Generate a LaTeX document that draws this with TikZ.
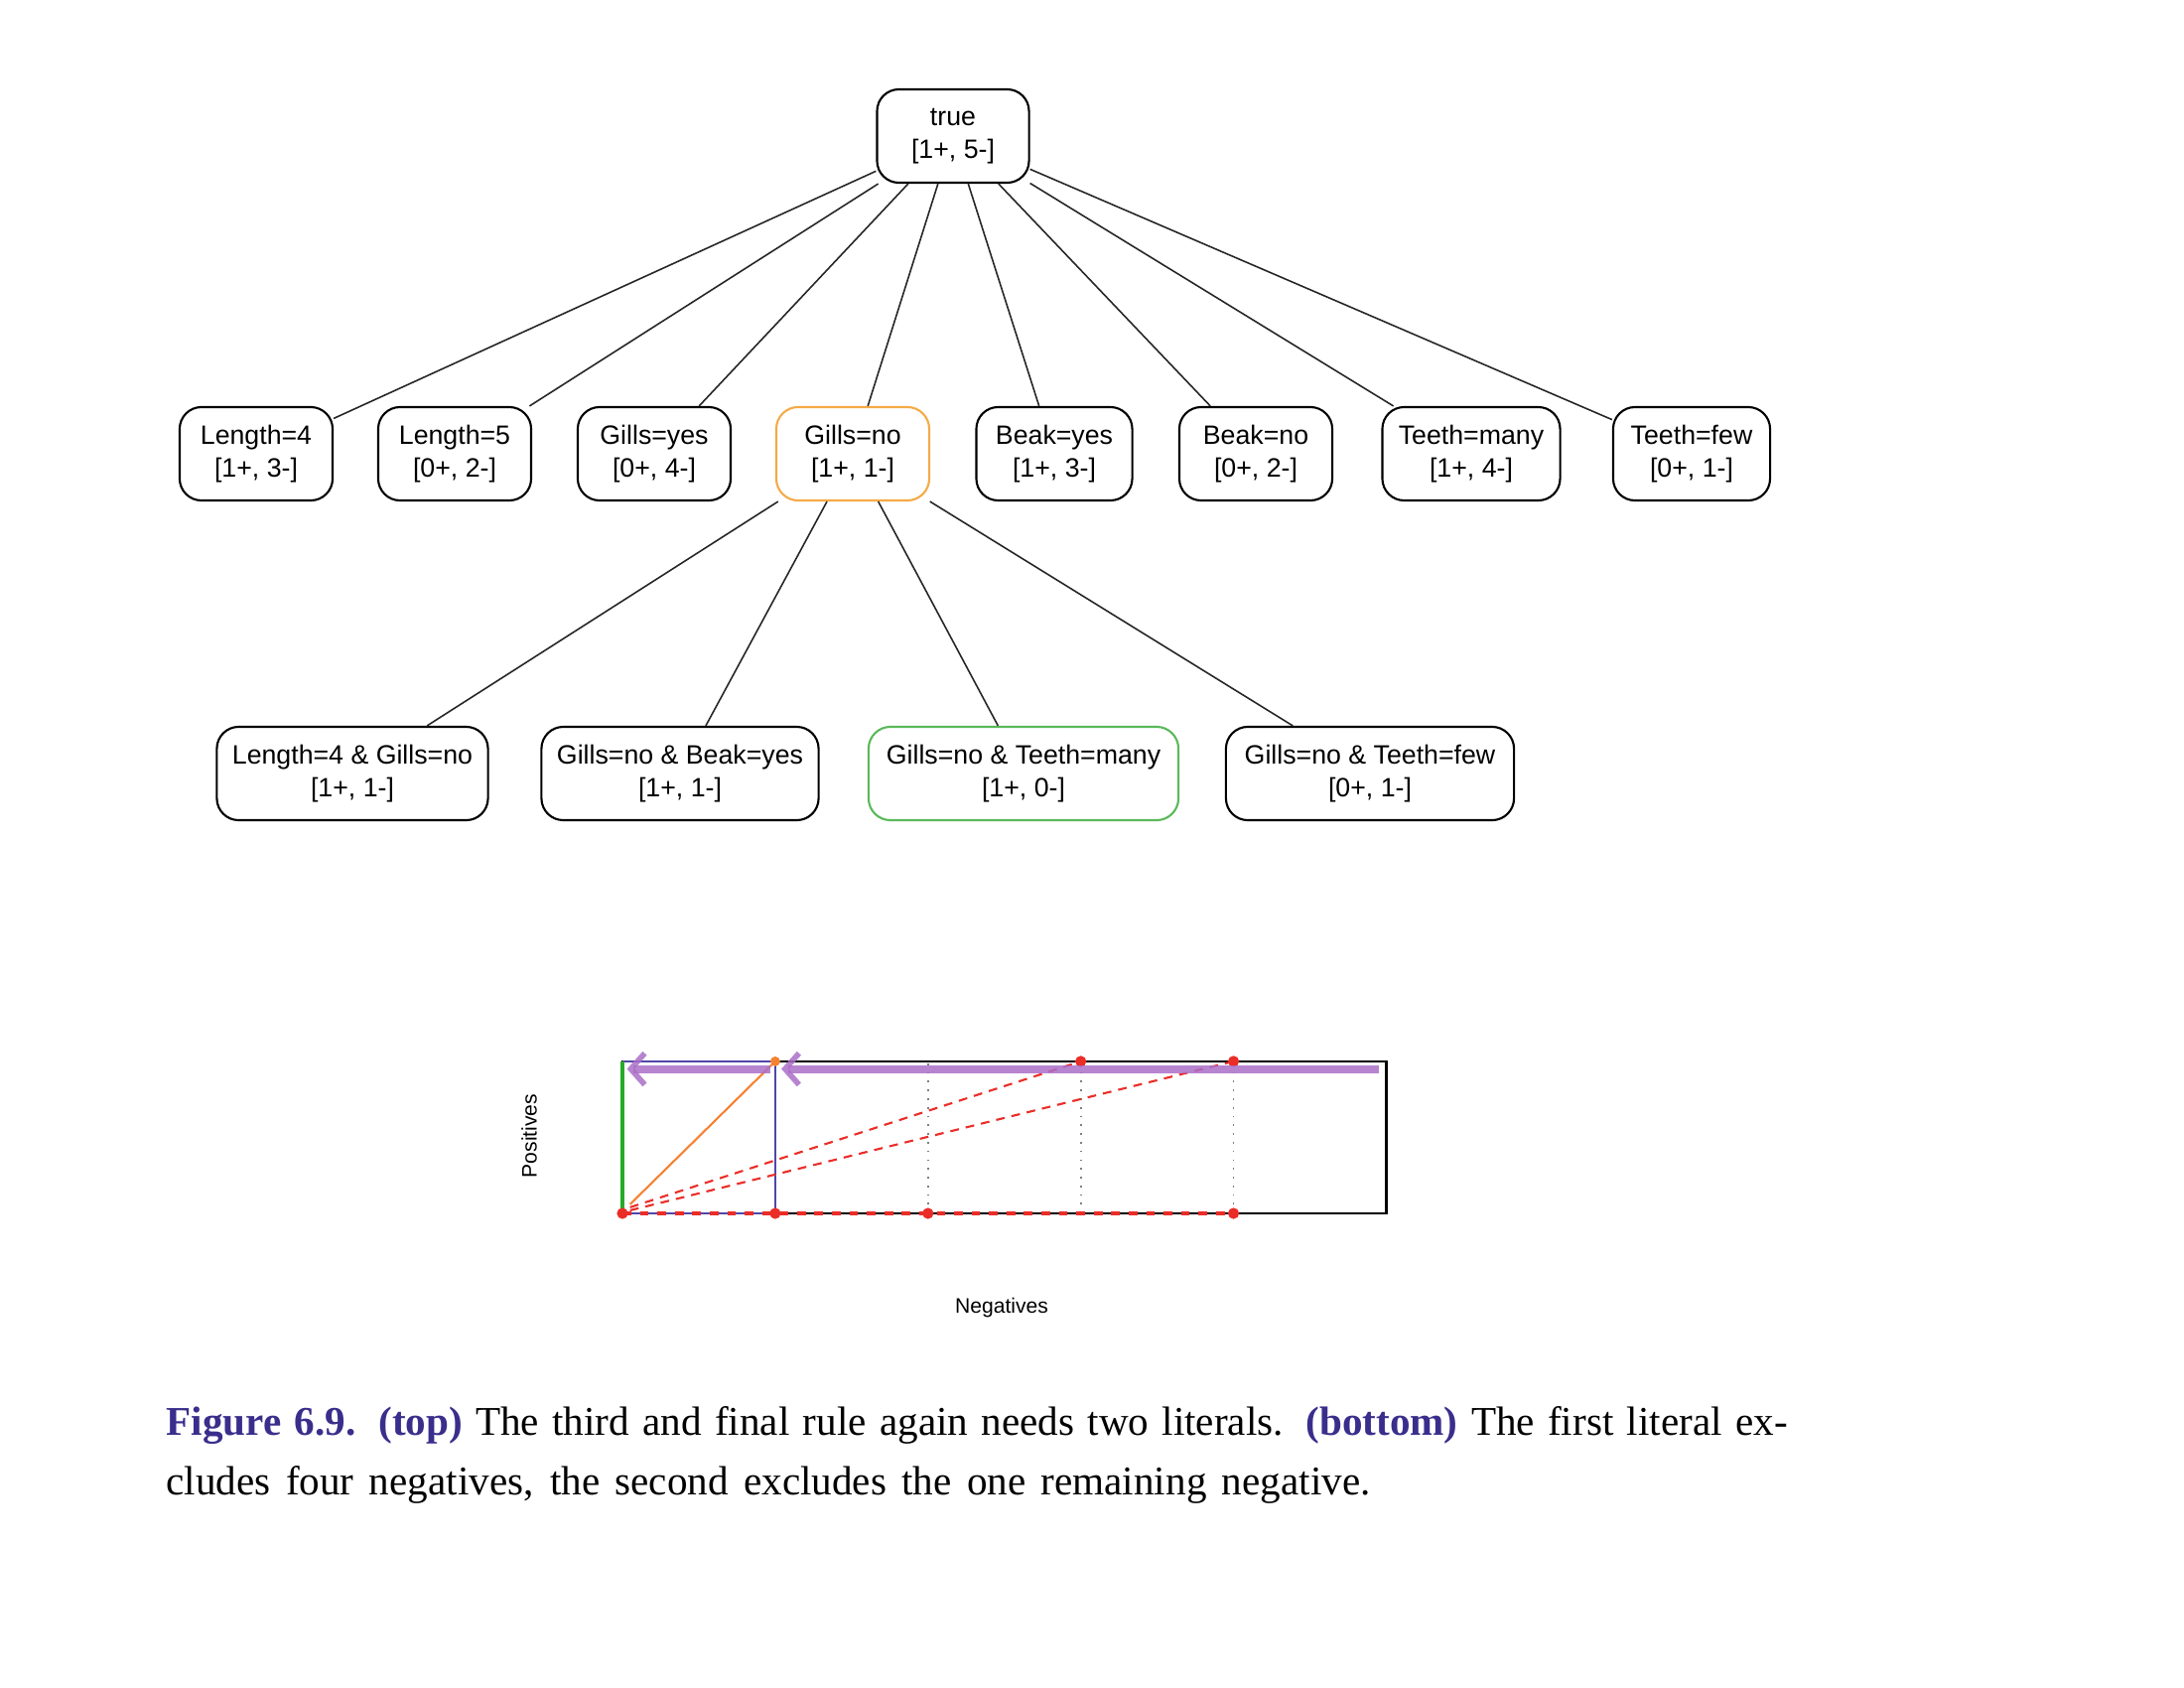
\documentclass[tikz,border=0pt]{standalone}
\usepackage{fontspec}
\usetikzlibrary{arrows.meta}
\newfontfamily\nodefont{Liberation Sans}
\newfontfamily\capfont{Liberation Serif}
\definecolor{capblue}{RGB}{58,46,140}
\definecolor{orangeb}{RGB}{245,170,70}
\definecolor{greenb}{RGB}{90,185,90}
\definecolor{plotgreen}{RGB}{40,170,40}
\definecolor{plotorange}{RGB}{245,130,50}
\definecolor{plotblue}{RGB}{80,70,170}
\definecolor{plotred}{RGB}{235,45,40}
\definecolor{plotviolet}{RGB}{170,110,200}
\tikzset{
  rnode/.style={draw, rounded corners=0.22cm, line width=0.6pt, minimum height=0.94cm,
    align=center, inner sep=2pt, font={\nodefont\fontsize{7.6}{9.2}\selectfont}},
  edge/.style={line width=0.45pt, draw=black!85},
  axlabel/.style={font={\nodefont\fontsize{6}{7}\selectfont}},
  reddash/.style={plotred, dashed, line width=0.6pt, dash pattern=on 2.5pt off 2pt},
  reddot/.style={fill=plotred, draw=none},
  violetarrow/.style={plotviolet, opacity=0.85, line width=2.3pt,
    -{Straight Barb[length=4pt,width=9pt,line width=1.6pt]}},
  captext/.style={anchor=base west, inner sep=0pt, font={\capfont\fontsize{11.7}{14}\selectfont}},
}
\begin{document}
\begin{tikzpicture}[x=0.01cm, y=-0.01cm]
\useasboundingbox (0,0) rectangle (2200,1700);
% root
\node[rnode, minimum width=1.53cm] (root) at (960,137) {true\\{}[1+, 5-]};
% level 1
\node[rnode, minimum width=1.54cm] (l4) at (258,457) {Length=4\\{}[1+, 3-]};
\node[rnode, minimum width=1.54cm] (l5) at (458,457) {Length=5\\{}[0+, 2-]};
\node[rnode, minimum width=1.54cm] (gy) at (659,457) {Gills=yes\\{}[0+, 4-]};
\node[rnode, minimum width=1.54cm, draw=orangeb] (gn) at (859,457) {Gills=no\\{}[1+, 1-]};
\node[rnode, minimum width=1.57cm] (by) at (1062,457) {Beak=yes\\{}[1+, 3-]};
\node[rnode, minimum width=1.54cm] (bn) at (1265,457) {Beak=no\\{}[0+, 2-]};
\node[rnode, minimum width=1.79cm] (tm) at (1482,457) {Teeth=many\\{}[1+, 4-]};
\node[rnode, minimum width=1.58cm] (tf) at (1704,457) {Teeth=few\\{}[0+, 1-]};
% level 2
\node[rnode, minimum width=2.73cm] (c1) at (355,779) {Length=4 \& Gills=no\\{}[1+, 1-]};
\node[rnode, minimum width=2.79cm] (c2) at (685,779) {Gills=no \& Beak=yes\\{}[1+, 1-]};
\node[rnode, minimum width=3.12cm, draw=greenb] (c3) at (1031,779) {Gills=no \& Teeth=many\\{}[1+, 0-]};
\node[rnode, minimum width=2.90cm] (c4) at (1380,779) {Gills=no \& Teeth=few\\{}[0+, 1-]};
% edges
\foreach \n in {l4,l5,gy,gn,by,bn,tm,tf} \draw[edge] (root) -- (\n);
\foreach \n in {c1,c2,c3,c4} \draw[edge] (gn) -- (\n);
% plot
\begin{scope}[shift={(627,1222)}, x=1.538cm, y=1.53cm]
  \foreach \i in {1,2,3,4} \draw[gray, dotted, line width=0.5pt] (\i,0) -- (\i,1);
  \draw[line width=0.8pt] (0,0) rectangle (5,1);
  \draw[plotblue, line width=0.7pt] (0,1) -- (1,1) -- (1,0);
  \draw[plotblue, line width=0.7pt] (0,0) -- (1,0);
  \draw[plotorange, line width=0.6pt] (0.05,0.06) -- (1,1);
  \draw[reddash] (0.05,0.04) -- (3,1);
  \draw[reddash] (0.05,0.02) -- (4,1);
  \draw[plotred, line width=1.1pt, dash pattern=on 2.5pt off 2.5pt] (0,0) -- (4,0);
  \draw[plotgreen, line width=0.9pt] (0,0) -- (0,1);
  \foreach \p in {(1,0),(2,0),(4,0),(3,1),(4,1),(0,0)} \fill[reddot] \p circle (1.6pt);
  \fill[plotorange] (1,1) circle (1.4pt);
  \draw[violetarrow] (4.95,0.95) -- (1.04,0.95);
  \draw[violetarrow] (0.97,0.95) -- (0.03,0.95);
\end{scope}
\node[axlabel, rotate=90] (pos) at (533,1144) {Positives};
\node[axlabel] (neg) at (1009,1317) {Negatives};
% caption
\node[captext] (cap1) at (167,1445)
  {\makebox[16.32cm][s]{\textcolor{capblue}{\textbf{Figure 6.9.}} \textcolor{capblue}{\textbf{(top)}} The third and final rule again needs two literals. \textcolor{capblue}{\textbf{(bottom)}} The first literal ex-}};
\node[captext] (cap2) at (167,1505)
  {\makebox[12.12cm][s]{cludes four negatives, the second excludes the one remaining negative.}};
\end{tikzpicture}
\end{document}
